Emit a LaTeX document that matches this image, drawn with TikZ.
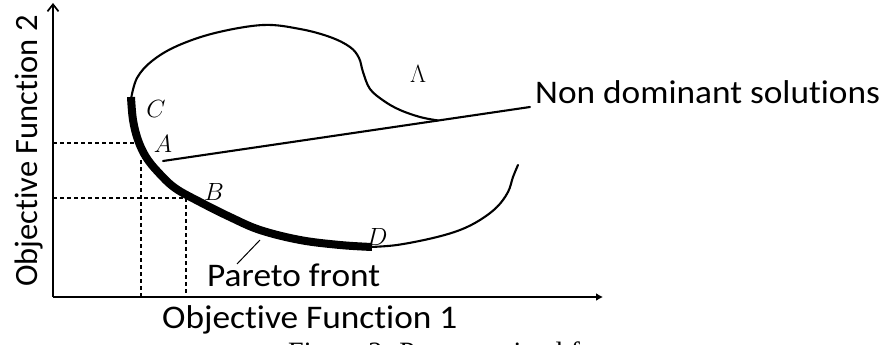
\documentclass[tikz,border=0pt]{standalone}
\usepackage{fontspec}
\newfontfamily\labelfont[Ligatures=CommonOff]{Carlito}
\newfontfamily\capfont{Liberation Serif}
\usetikzlibrary{arrows.meta}
\begin{document}
\begin{tikzpicture}[x=1pt,y=-1pt,
  axis/.style={line width=1.7pt},
  guide/.style={line width=1.2pt, dash pattern=on 4pt off 3pt},
  rim/.style={line width=2.1pt, line join=round, line cap=round},
  front/.style={line width=8pt},
  axistext/.style={font=\labelfont\fontsize{33}{36}\selectfont, inner sep=0pt, xscale=1.07},
  pointlabel/.style={font=\fontsize{27}{29}\selectfont, inner sep=0pt}
]
\useasboundingbox (0,0) rectangle (884,345);

% axes
\coordinate (O) at (53,297);
\coordinate (ytop) at (53,3);
\coordinate (xend) at (603,297);
\draw[axis, -{Straight Barb[length=7pt,width=11pt]}] (O) -- (ytop);
\draw[axis, -{Latex[length=7pt,width=8pt]}] (O) -- (xend);

% dashed projections of A and B onto the axes
\coordinate (ya) at (53,143);
\coordinate (ha) at (138,143);
\coordinate (va) at (141,160);
\coordinate (xa) at (141,297);
\coordinate (yb) at (53,198);
\coordinate (pb) at (186,198);
\coordinate (xb) at (186,297);
\draw[guide] (ya) -- (ha);
\draw[guide] (va) -- (xa);
\draw[guide] (yb) -- (pb);
\draw[guide] (pb) -- (xb);

% boundary of the objective space (thin part)
\draw[rim] plot[smooth, tension=0.6] coordinates {
  (131,99) (137,78) (152,61) (177,46) (215,33) (263,25) (300,29)
  (330,37) (350,47) (359,58) (363,72) (370,89) (384,101) (400,110)
  (420,117) (438,120.5)};
\draw[rim] plot[smooth, tension=0.6] coordinates {
  (370,247) (397,245) (433,238) (460,230) (480,220) (497,207)
  (508,192) (513,177) (518,165)};

% Pareto front (thick part)
\draw[front] plot[smooth, tension=0.6] coordinates {
  (131,97) (133,120) (138,140) (146,157) (158,172) (175,188) (200,202)
  (230,217) (260,230) (300,240) (340,245) (372,247)};

% point labels
\node[pointlabel] (C) at (156,109) {$C$};
\node[pointlabel] (A) at (163,144) {$A$};
\node[pointlabel] (B) at (214,192) {$B$};
\node[pointlabel] (D) at (377,237) {$D$};
\node[pointlabel] (L) at (418,74) {$\Lambda$};

% non dominant solutions pointer
\node[axistext, anchor=base west] (nd) at (535,103) {Non dominant solutions};
\coordinate (sA) at (163,161);
\coordinate (ndend) at (530,107);
\draw[rim] (sA) -- (ndend);

% Pareto front pointer
\node[axistext, anchor=base west] (pareto) at (207,286) {Pareto front};
\coordinate (lead0) at (237,264);
\coordinate (lead1) at (260,240);
\draw[line width=1pt] (lead0) -- (lead1);

% axis titles
\node[axistext, anchor=base west] (f1) at (162,328) {Objective Function 1};
\node[font=\labelfont\fontsize{32.5}{35}\selectfont, inner sep=0pt,
      rotate=90, anchor=base west] (f2) at (37,287) {Objective Function 2};

% caption, only its top edge falls inside the page
\begin{scope}
  \clip (0,0) rectangle (884,345);
  \node[font=\capfont\fontsize{28}{30}\selectfont, inner sep=0pt,
        anchor=base west] (cap) at (288,361) {Figure 2: Pareto optimal front};
\end{scope}
\end{tikzpicture}
\end{document}
